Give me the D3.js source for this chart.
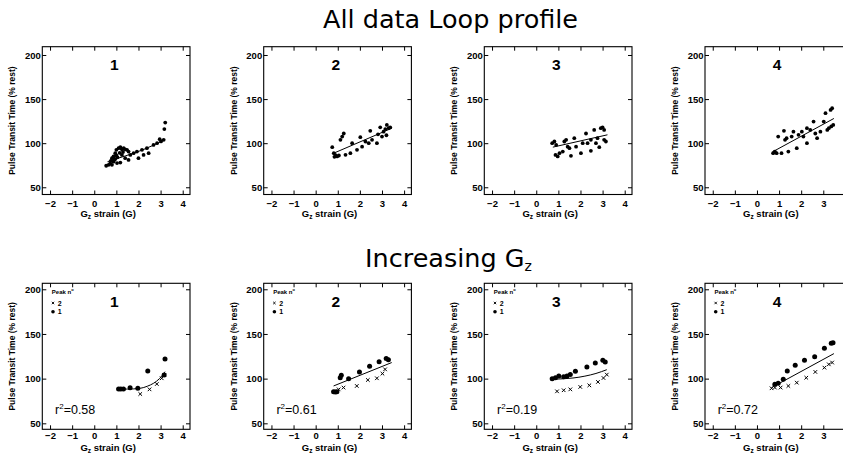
<!DOCTYPE html>
<html>
<head>
<meta charset="utf-8">
<script src="https://cdn.jsdelivr.net/npm/d3@7"></script>
<style>
  body { margin: 0; background: #fff; }
  svg { display: block; }
</style>
</head>
<body>
<div id="chart"></div>
<script>
// Tick values and panel labels
const xTicks = [-2, -1, 0, 1, 2, 3, 4];
const yTicks = [50, 100, 150, 200];
const panelNames = ["1", "2", "3", "4"];
const rSquared = ["0.58", "0.61", "0.19", "0.72"];

// Top row: all data (loop profile), [G strain, PTT % rest]
const allPts1 = [[0.54,74.4],[0.65,75.5],[0.8,75.5],[0.72,77],[0.8,83],[0.87,85],[0.95,88.7],[1.0,92.5],[1.1,94.3],[1.18,95.5],[1.25,93],[1.33,94.3],[1.4,93],[1.48,92.5],[1.55,90.5],[0.87,79],[1.03,77.4],[1.18,78],[1.25,86.7],[1.4,83],[1.55,81],[1.63,86.7],[1.78,88.7],[1.93,90.5],[2.0,83],[2.16,92.5],[2.23,86.7],[2.38,94.3],[2.46,88.7],[2.68,98],[2.84,100],[2.96,104.5],[3.02,102],[3.14,103.8],[3.17,116],[3.21,123.4],[0.9,81],[1.05,84],[0.75,80],[1.15,89],[1.0,86],[1.3,90],[0.95,82]];
const allFit1 = [[0.6,79],[1.4,85.5],[2.2,92.5],[3.2,104]];

const allPts2 = [[0.75,95.5],[0.82,88.7],[0.97,85],[0.85,84.5],[0.9,86.5],[1.05,86],[1.12,103.8],[1.2,107.5],[1.27,111],[1.35,86.8],[1.57,88.7],[1.65,100],[1.87,92.5],[2.02,106.8],[2.1,96],[2.25,101.9],[2.4,100],[2.47,114],[2.55,103.8],[2.77,100],[2.82,110],[2.92,118],[3.0,107.5],[3.07,113],[3.15,116],[3.22,120.7],[3.3,117],[3.37,118],[3.2,109]];
const allFit2 = [[0.82,88.7],[3.45,117]];

const allPts3 = [[0.72,100],[0.82,101.9],[0.9,98],[0.87,86.7],[0.97,85],[1.05,88.7],[1.2,90.5],[1.27,101.9],[1.35,103.8],[1.42,96],[1.57,85.7],[1.5,94.3],[1.72,105.7],[1.8,96],[2.02,88.7],[2.1,100],[2.25,111],[2.32,100],[2.47,103.8],[2.47,91.3],[2.62,115],[2.7,100],[2.77,105.7],[2.85,95.5],[2.92,117],[3.0,118],[3.07,115],[3.07,103.8],[3.15,101.9]];
const allFit3 = [[0.75,95.5],[3.22,109.5]];

const allPts4 = [[0.73,88.7],[0.81,90.5],[0.89,88.7],[0.78,89.5],[0.96,107.5],[1.22,114],[1.11,88.7],[1.27,103.8],[1.34,105.7],[1.42,90.5],[1.57,107.5],[1.65,113],[1.8,94.3],[1.88,109.5],[2.03,113],[2.1,107.5],[2.26,117],[2.26,100],[2.41,115],[2.56,124.5],[2.64,111],[2.72,105.7],[2.87,113],[3.02,124.5],[3.1,134],[3.18,115],[3.25,117],[3.33,137.7],[3.4,139.6],[3.45,120.7],[3.36,119]];
const allFit4 = [[0.73,90.5],[3.48,128]];

// Bottom row: increasing Gz, peak 1 (dots) and peak 2 (crosses)
const incPeak1_1 = [[1.1,88.4],[1.2,88.4],[1.32,88.4],[1.62,89.9],[1.97,89.2],[2.42,108.6],[3.2,122],[3.16,104.1]];
const incPeak2_1 = [[2.08,82.8],[2.5,88],[2.83,94],[3.05,100.4],[3.17,104]];
const incFit1 = [[1.02,88.4],[1.5,88.3],[2.08,89.2],[2.4,91.5],[2.68,94.8],[2.95,100],[3.2,107.8]];

const incPeak1_2 = [[0.81,85.4],[0.89,85],[0.96,85.4],[1.11,101],[1.16,103.7],[1.49,100],[1.98,107.5],[2.44,114],[2.87,119],[3.19,122.4],[3.29,121]];
const incPeak2_2 = [[1.04,88],[1.26,90],[1.86,91.8],[2.36,98.5],[2.77,100.4],[3.02,105.6],[3.14,110.4]];
const incFit2 = [[0.81,91.8],[3.44,118]];

const incPeak1_3 = [[0.72,100],[0.87,101],[1.02,103],[1.24,102],[1.39,103],[1.54,104.5],[1.77,108.2],[2.29,113],[2.67,117.5],[3.01,120.5],[3.12,118.7]];
const incPeak2_3 = [[0.94,85.8],[1.24,87],[1.54,88],[1.99,90.7],[2.4,92.5],[2.79,96.3],[3.04,100.7],[3.19,104.5]];
const incFit3 = [[0.72,99.3],[1.2,99.8],[1.66,100.7],[2.2,102.8],[2.7,105.8],[3.19,110]];

const incPeak1_4 = [[0.81,93.7],[0.96,94.8],[1.19,99.3],[1.37,108.6],[1.73,115],[2.15,120.5],[2.61,124.6],[3.05,134],[3.36,139.6],[3.44,140.3]];
const incPeak2_4 = [[0.66,89.2],[0.81,90],[1.07,90],[1.42,91.8],[1.8,95.5],[2.23,101],[2.64,107.5],[3.05,112.3],[3.25,116],[3.4,118]];
const incFit4 = [[0.66,90],[3.48,128]];

const allPts = [allPts1, allPts2, allPts3, allPts4];
const allFits = [allFit1, allFit2, allFit3, allFit4];
const incPeak1 = [incPeak1_1, incPeak1_2, incPeak1_3, incPeak1_4];
const incPeak2 = [incPeak2_1, incPeak2_2, incPeak2_3, incPeak2_4];
const incFits = [incFit1, incFit2, incFit3, incFit4];

// Layout
const width = 843, height = 454;
const panelLefts = [42.3, 263.7, 484.3, 705];
const panelW = 147.7;
const rows = [
  { top: 46.7, bottom: 194.5, yDomain: [41.8, 209.4], tickPad: 5.5, titleOff: 23, xTitle: 22.5 },
  { top: 283.3, bottom: 429.3, yDomain: [43.3, 206.7], tickPad: 3, titleOff: 24, xTitle: 21.5 }
];
const font = "'Liberation Sans', Arial, sans-serif";

const svg = d3.select("#chart").append("svg")
  .attr("width", width)
  .attr("height", height)
  .style("font-family", font);

// Section titles
svg.append("text")
  .attr("x", 323).attr("y", 28.3)
  .attr("font-family", "'DejaVu Sans', sans-serif")
  .attr("font-size", 25.5)
  .text("All data Loop profile");

const t2 = svg.append("text")
  .attr("x", 365).attr("y", 266.7)
  .attr("font-family", "'DejaVu Sans', sans-serif")
  .attr("font-size", 25.5)
  .text("Increasing G");
t2.append("tspan").attr("font-size", 14).attr("dy", 4).text("z");

const line = d3.line().x(d => d[0]).y(d => d[1]).curve(d3.curveMonotoneX);

function drawPanel(rowIdx, i) {
  const row = rows[rowIdx];
  const left = panelLefts[i];
  const x = d3.scaleLinear().domain([-2.35, 4.33]).range([left, left + panelW]);
  const y = d3.scaleLinear().domain(row.yDomain).range([row.bottom, row.top]);
  const g = svg.append("g");

  // axes with inward ticks; labels that would fall off the page are dropped
  g.append("g").attr("transform", `translate(0,${row.bottom})`)
    .call(d3.axisBottom(x).tickValues(xTicks).tickSizeInner(-4).tickSizeOuter(0).tickPadding(row.tickPad)
      .tickFormat(d => x(d) > width - 5 ? "" : d3.format("d")(d)));
  g.append("g").attr("transform", `translate(0,${row.top})`)
    .call(d3.axisTop(x).tickValues(xTicks).tickSizeInner(-4).tickSizeOuter(0).tickFormat(""));
  const yl = g.append("g").attr("transform", `translate(${left},0)`)
    .call(d3.axisLeft(y).tickValues(yTicks).tickSizeInner(-4).tickSizeOuter(0).tickPadding(1.5));
  g.append("g").attr("transform", `translate(${left + panelW},0)`)
    .call(d3.axisRight(y).tickValues(yTicks).tickSizeInner(-4).tickSizeOuter(0).tickFormat(""));

  g.selectAll(".domain").remove();
  g.selectAll(".tick line").attr("stroke", "#000").attr("stroke-width", 1);
  g.selectAll(".tick text")
    .attr("font-family", font).attr("font-size", 9.5).attr("font-weight", "bold").attr("fill", "#000");
  yl.selectAll(".tick text").attr("dy", "0.35em");

  g.append("rect")
    .attr("x", left).attr("y", row.top)
    .attr("width", panelW).attr("height", row.bottom - row.top)
    .attr("fill", "none").attr("stroke", "#000").attr("stroke-width", 1.1);

  // axis titles
  const xt = g.append("text")
    .attr("x", left + panelW / 2 - 8).attr("y", row.bottom + row.xTitle)
    .attr("text-anchor", "middle")
    .attr("font-size", 9.5).attr("font-weight", "bold")
    .text("G");
  xt.append("tspan").attr("font-size", 6.5).attr("dy", 2).text("z");
  xt.append("tspan").attr("dy", -2).text(" strain (G)");

  g.append("text")
    .attr("transform", `translate(${left - 27},${(row.top + row.bottom) / 2}) rotate(-90)`)
    .attr("text-anchor", "middle")
    .attr("font-size", 8.5).attr("font-weight", "bold")
    .text("Pulse Transit Time (% rest)");

  // panel number
  g.append("text")
    .attr("x", x(1) - 2).attr("y", row.top + row.titleOff)
    .attr("text-anchor", "middle")
    .attr("font-size", 15.5).attr("font-weight", "bold")
    .text(panelNames[i]);

  if (rowIdx === 0) {
    g.selectAll("circle.pt").data(allPts[i]).enter().append("circle")
      .attr("class", "pt")
      .attr("cx", d => x(d[0])).attr("cy", d => y(d[1]))
      .attr("r", 1.9).attr("fill", "#000");
    g.append("path")
      .datum(allFits[i].map(d => [x(d[0]), y(d[1])]))
      .attr("d", line).attr("fill", "none").attr("stroke", "#000").attr("stroke-width", 1);
  } else {
    g.append("path")
      .datum(incFits[i].map(d => [x(d[0]), y(d[1])]))
      .attr("d", line).attr("fill", "none").attr("stroke", "#000").attr("stroke-width", 1);
    g.selectAll("circle.pk1").data(incPeak1[i]).enter().append("circle")
      .attr("class", "pk1")
      .attr("cx", d => x(d[0])).attr("cy", d => y(d[1]))
      .attr("r", 2.5).attr("fill", "#000");
    g.selectAll("path.pk2").data(incPeak2[i]).enter().append("path")
      .attr("class", "pk2")
      .attr("d", d => { const cx = x(d[0]), cy = y(d[1]), s = 1.8;
        return `M${cx - s},${cy - s}L${cx + s},${cy + s}M${cx - s},${cy + s}L${cx + s},${cy - s}`; })
      .attr("stroke", "#000").attr("stroke-width", 1);

    // legend
    const lx = left + 9.5, ly = row.top;
    const lt = g.append("text").attr("x", lx).attr("y", ly + 10.5)
      .attr("font-size", 6).attr("font-weight", "bold").text("Peak n");
    lt.append("tspan").attr("font-size", 4).attr("dy", -2.5).text("o");
    g.append("path")
      .attr("d", `M${lx},${ly + 18.5}L${lx + 2.4},${ly + 20.9}M${lx},${ly + 20.9}L${lx + 2.4},${ly + 18.5}`)
      .attr("stroke", "#000").attr("stroke-width", 0.9);
    g.append("text").attr("x", lx + 6).attr("y", ly + 22.2)
      .attr("font-size", 7).attr("font-weight", "bold").text("2");
    g.append("circle").attr("cx", lx + 1.2).attr("cy", ly + 28.5).attr("r", 1.8).attr("fill", "#000");
    g.append("text").attr("x", lx + 6).attr("y", ly + 31)
      .attr("font-size", 7).attr("font-weight", "bold").text("1");

    // r squared
    const rt = g.append("text").attr("x", left + 12.7).attr("y", row.top + 130.7)
      .attr("font-size", 12.5).text("r");
    rt.append("tspan").attr("font-size", 8).attr("dy", -5).text("2");
    rt.append("tspan").attr("dy", 5).text("=" + rSquared[i]);
  }
}

rows.forEach((r, ri) => panelNames.forEach((p, i) => drawPanel(ri, i)));
</script>
</body>
</html>
